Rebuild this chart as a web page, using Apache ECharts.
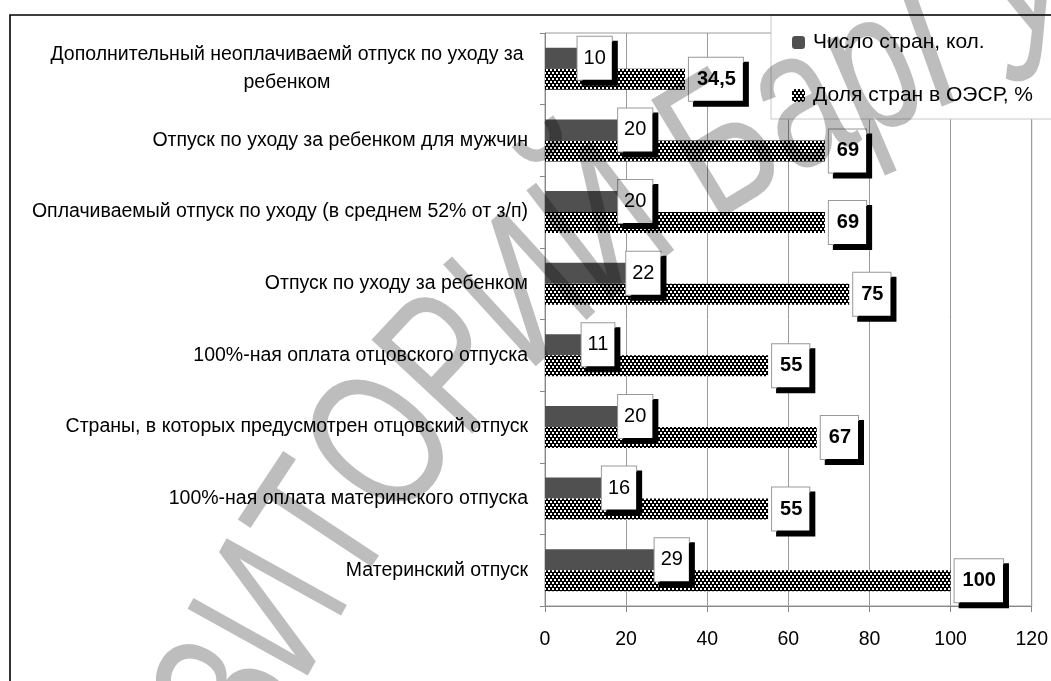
<!DOCTYPE html>
<html><head><meta charset="utf-8">
<script src="https://cdn.jsdelivr.net/npm/echarts@6/dist/echarts.min.js"></script>
<style>html,body{margin:0;padding:0;background:#fff}#c{width:1051px;height:681px}</style>
</head><body><div id="c"></div>
<script>
const categories = [
  'Материнский отпуск',
  '100%-ная оплата материнского отпуска',
  'Страны, в которых предусмотрен отцовский отпуск',
  '100%-ная оплата отцовского отпуска',
  'Отпуск по уходу за ребенком',
  'Оплачиваемый отпуск по уходу (в среднем 52% от з/п)',
  'Отпуск по уходу за ребенком для мужчин',
  'Дополнительный неоплачиваемй отпуск по уходу за ребенком'
];
const countValues = [29, 16, 20, 11, 22, 20, 20, 10];
const shareValues = [100, 55, 67, 55, 75, 69, 69, 34.5];
const xTicks = [0, 20, 40, 60, 80, 100, 120];
const seriesNames = ['Число стран, кол.', 'Доля стран в ОЭСР, %'];
const watermarkText = 'РЕПОЗИТОРИЙ БарГУ';

const FONT = '"Liberation Sans", Arial, sans-serif';

function makePattern() {
  const c = document.createElement('canvas');
  c.width = 8; c.height = 6;
  const g = c.getContext('2d');
  g.fillStyle = '#000'; g.fillRect(0, 0, 8, 6);
  g.fillStyle = '#fff';
  g.fillRect(0, 0, 2, 2); g.fillRect(4, 0, 2, 2);
  g.fillRect(2, 3, 2, 2); g.fillRect(6, 3, 2, 2);
  return c;
}

function watermark() {
  const fam = '"Liberation Sans", Arial, sans-serif';
  const F = 200;
  const mc = document.createElement('canvas').getContext('2d');
  const chars = Array.from(watermarkText);
  mc.font = F + 'px ' + fam;
  const wF = chars.map(ch => mc.measureText(ch).width);
  const iz = chars.indexOf('З');
  let d = wF[iz] / 2 + wF[iz + 5] / 2;
  for (let j = iz + 1; j < iz + 5; j++) d += wF[j];
  const sx = 500 / d;
  const w = wF.map(v => v * sx);
  const cx = 1367, cy = 1217, R = 1244;
  const thA = Math.atan2(705 - cy, 248 - cx);
  const cum = [];
  let acc = 0;
  for (let i = 0; i < chars.length; i++) { cum.push(acc + w[i] / 2); acc += w[i]; }
  const base = cum[iz];
  const els = [];
  chars.forEach((ch, i) => {
    if (ch === ' ') return;
    const th = thA + (cum[i] - base) / R;
    const x = cx + R * Math.cos(th), y = cy + R * Math.sin(th);
    const dx = -Math.sin(th), dy = Math.cos(th);
    els.push({
      type: 'text', x: x, y: y, rotation: -Math.atan2(dy, dx), scaleX: sx, scaleY: 1,
      silent: true, z: 200,
      style: { text: ch, font: F + 'px ' + fam, fill: 'rgba(0,0,0,0.26)',
               textAlign: 'center', textVerticalAlign: 'middle' }
    });
  });
  return els;
}

const chart = echarts.init(document.getElementById('c'));
const pattern = makePattern();

const labelBox = {
  show: true, position: 'right', color: '#000', fontSize: 20, fontFamily: FONT,
  lineHeight: 20, backgroundColor: '#fff', borderColor: '#999', borderWidth: 1,
  padding: [11, 6, 12, 6], shadowColor: '#000', shadowOffsetX: 5, shadowOffsetY: 5, shadowBlur: 0
};

chart.setOption({
  animation: false,
  backgroundColor: '#fff',
  textStyle: { fontFamily: FONT },
  grid: { left: 545, right: 17, top: 33, bottom: 75, show: true, borderColor: '#9a9a9a', borderWidth: 1, backgroundColor: 'transparent' },
  legend: {
    orient: 'vertical', left: 771, top: 15,
    data: seriesNames,
    itemWidth: 13, itemHeight: 13, itemGap: 32,
    padding: [17, 40, 13, 21],
    backgroundColor: '#fff', borderColor: '#c8c8c8', borderWidth: 1,
    textStyle: { fontSize: 21, color: '#000', fontFamily: FONT, padding: [0, 0, 0, 3] },
    z: 50
  },
  xAxis: {
    type: 'value', min: xTicks[0], max: xTicks[xTicks.length - 1], interval: xTicks[1] - xTicks[0],
    axisLine: { show: true, lineStyle: { color: '#888', width: 1 } },
    axisTick: { show: true, length: 6, lineStyle: { color: '#888' } },
    splitLine: { show: true, lineStyle: { color: '#9a9a9a', width: 1 } },
    axisLabel: { fontSize: 19.5, color: '#000', margin: 24, fontFamily: FONT }
  },
  yAxis: {
    type: 'category', data: categories,
    axisLine: { show: true, lineStyle: { color: '#888', width: 1 } },
    axisTick: { show: true, length: 5, lineStyle: { color: '#888' } },
    axisLabel: {
      interval: 0, fontSize: 19.5, color: '#000', margin: 17, fontFamily: FONT,
      formatter: function (v) {
        if (v.length > 53) {
          const k = v.lastIndexOf(' ');
          return '{c|' + v.slice(0, k) + '}\n{c|' + v.slice(k + 1) + '}';
        }
        return v;
      },
      rich: { c: { width: 482, align: 'center', fontSize: 19.5, lineHeight: 28, color: '#000', fontFamily: FONT } }
    }
  },
  series: [
    {
      name: seriesNames[0], type: 'bar', data: countValues, barWidth: 21, barGap: '0%',
      itemStyle: { color: '#505050' },
      label: Object.assign({}, labelBox, { distance: 0, offset: [-8, 0] })
    },
    {
      name: seriesNames[1], type: 'bar', data: shareValues, barWidth: 21, barGap: '0%',
      itemStyle: { color: { image: pattern, repeat: 'repeat' } },
      label: Object.assign({}, labelBox, {
        distance: 4, fontWeight: 'bold', padding: [11, 7, 12, 8],
        formatter: p => String(p.value).replace('.', ',')
      })
    }
  ],
  graphic: { elements: [
    { type: 'rect', shape: { x: 10, y: 15, width: 1200, height: 1000 }, style: { fill: 'none', stroke: '#000', lineWidth: 1.6 }, silent: true, z: 100 }
  ].concat(watermark()) }
});
</script></body></html>
